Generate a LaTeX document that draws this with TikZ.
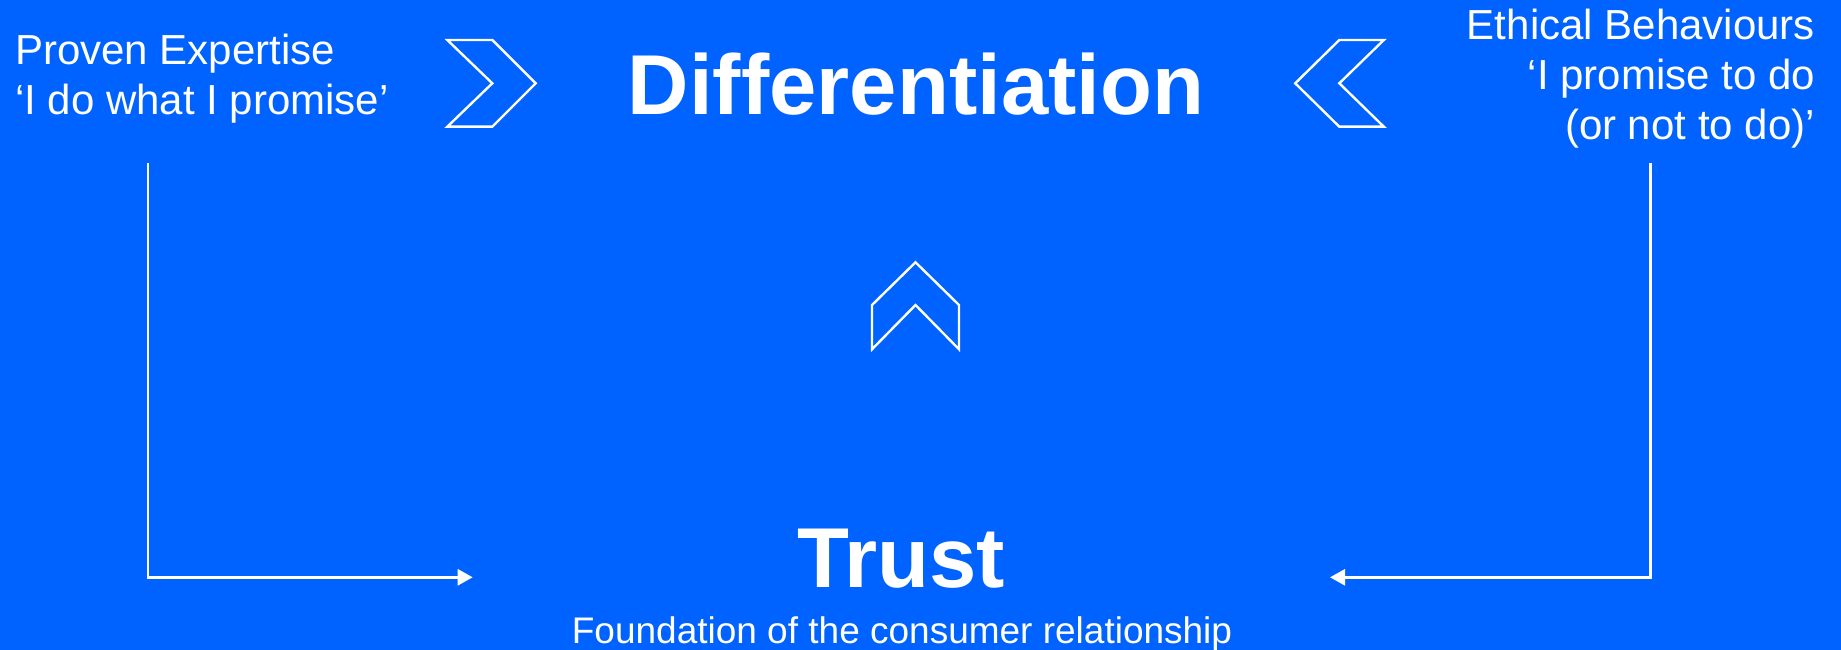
\documentclass[tikz,border=0pt]{standalone}
\usepackage{fontspec}
\setmainfont{Liberation Sans}
\usetikzlibrary{arrows.meta}
\definecolor{bgblue}{RGB}{0,98,255}
\begin{document}
\begin{tikzpicture}[x=1pt,y=-1pt,
  label/.style={inner sep=0pt,text=white,font=\fontsize{42}{50}\selectfont},
  headline/.style={inner sep=0pt,text=white,font=\fontsize{85}{100}\selectfont\bfseries},
  subline/.style={inner sep=0pt,text=white,font=\fontsize{37}{44}\selectfont},
  chevron/.style={draw=white,line width=2.4pt,line join=miter},
  flow/.style={draw=white,line width=2.6pt,-{Triangle[length=15pt,width=16pt]}}]
  % background and page frame
  \fill[bgblue] (0,0) rectangle (1841,650);
  \useasboundingbox (0,0) rectangle (1841,650);

  % side labels
  \node[label,anchor=base west] (pe1) at (15,65) {Proven Expertise};
  \node[label,anchor=base west] (pe2) at (15,115) {‘I do what I promise’};
  \node[label,anchor=base east] (eb1) at (1815,39.5) {Ethical Behaviours};
  \node[label,anchor=base east] (eb2) at (1815,89.5) {‘I promise to do};
  \node[label,anchor=base east] (eb3) at (1815,139.5) {(or not to do)’};

  % headlines
  \node[headline,anchor=base] (diff) at (916,115) {Differentiation};
  \node[headline,anchor=base] (trust) at (901,587) {Trust};
  \node[subline,anchor=base] (found) at (902,643) {Foundation of the consumer relationship};

  % chevrons
  \draw[chevron] (447.3,40) -- (492.3,40) -- (535.7,83.3) -- (492.3,126.7)
    -- (447.3,126.7) -- (492.3,83.3) -- cycle;
  \draw[chevron] (1383.8,40) -- (1339.3,40) -- (1295.2,83.3) -- (1339.3,126.7)
    -- (1383.8,126.7) -- (1339.3,83.3) -- cycle;
  \draw[chevron] (915.5,262.3) -- (959,305) -- (959,349.3) -- (915.5,305)
    -- (872,349.3) -- (872,305) -- cycle;

  % connectors into the foundation
  \coordinate (lstart) at (148,163);
  \coordinate (lend) at (472.7,577.3);
  \coordinate (rstart) at (1650.7,163);
  \coordinate (rend) at (1330,577.3);
  \draw[flow] (lstart) |- (lend);
  \draw[flow] (rstart) |- (rend);
\end{tikzpicture}
\end{document}
